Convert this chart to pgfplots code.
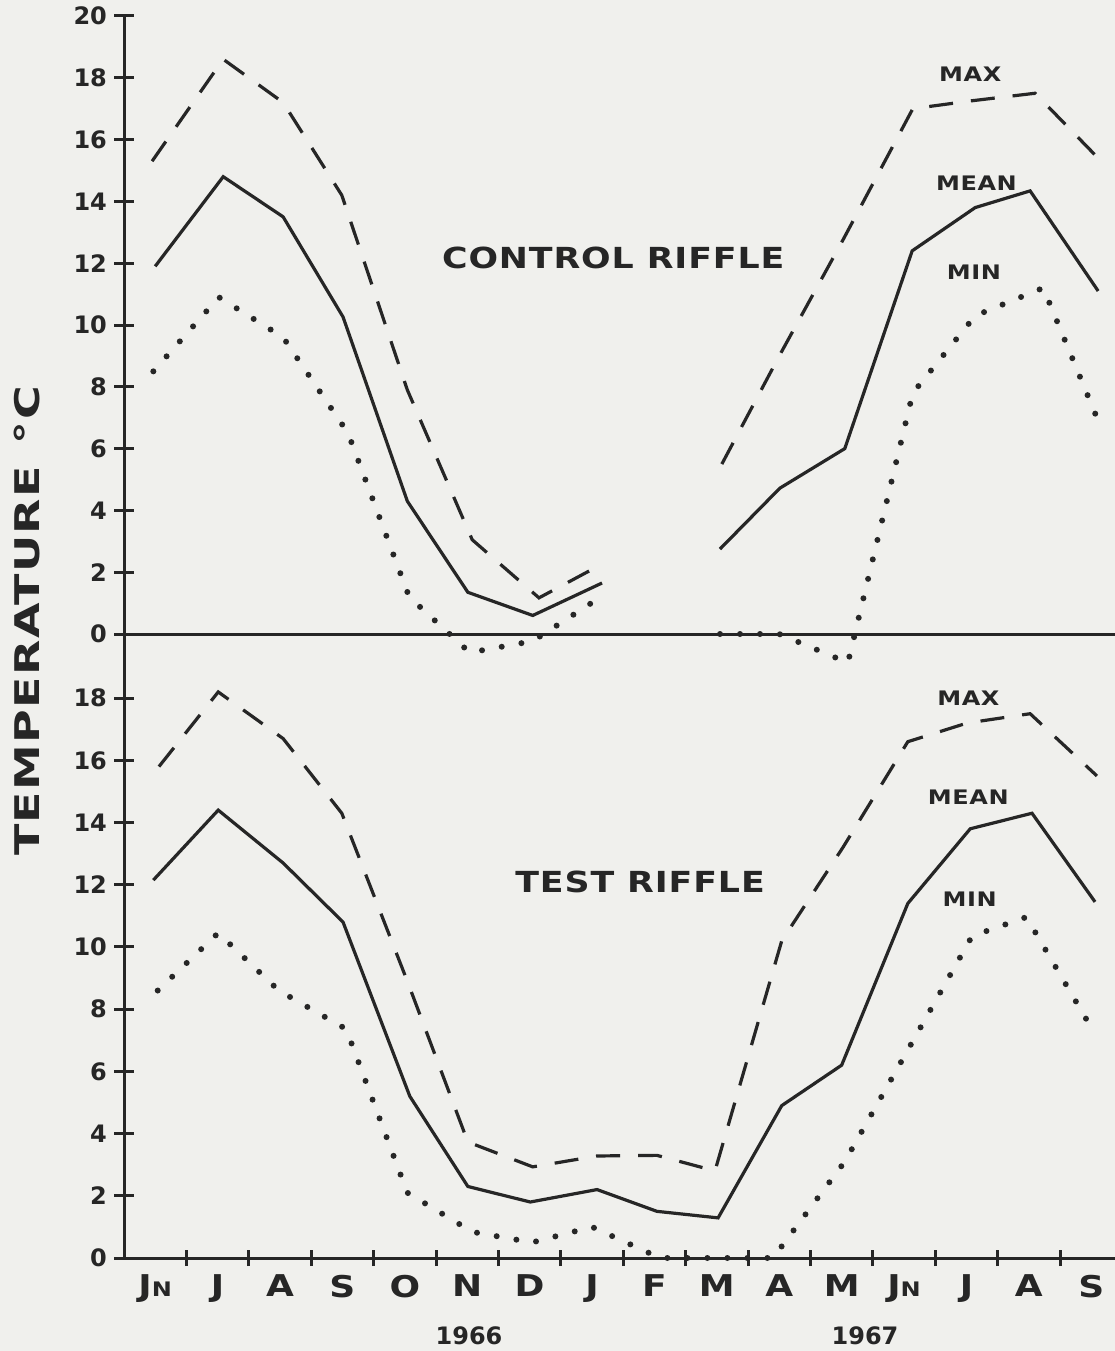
\documentclass[border=0pt]{standalone}
\usepackage{pgfplots}
\pgfplotsset{compat=1.18}
\usepackage{fontspec}
\setmainfont{DejaVu Sans}
\newfontfamily\wide{DejaVu Sans}[FakeStretch=1.2,LetterSpace=3]
\newfontfamily\widest{DejaVu Sans}[FakeStretch=1.35,LetterSpace=4]

\definecolor{paper}{RGB}{240,240,237}
\definecolor{ink}{RGB}{38,38,38}

\pgfplotsset{
  riffle/.style={
    scale only axis, width=495.5pt,
    xmin=0, xmax=15.88,
    clip=false,
    tick align=outside,
    major tick length=10pt,
    minor tick length=8pt,
    every tick/.style={ink, line width=1.5pt},
    ticklabel style={font=\bfseries\fontsize{12}{14}\selectfont, text=ink},
    /pgf/number format/assume math mode=true,
  },
}
\tikzset{
  tmax/.style={ink, line width=1.6pt, dash pattern=on 12pt off 9pt},
  tmean/.style={ink, line width=1.6pt},
  tmin/.style={ink, line width=3pt, line cap=round, dash pattern=on 0pt off 10pt},
  lbl/.style={font=\wide\bfseries\fontsize{10}{12}\selectfont, text=ink},
  ttl/.style={font=\wide\bfseries\fontsize{14.5}{17}\selectfont, text=ink},
}

\begin{document}
\begin{tikzpicture}
\path[use as bounding box, fill=paper] (0,0) rectangle (557.5pt,675.5pt);

% control riffle
\begin{axis}[riffle, at={(62pt,335.75pt)}, anchor=south west, height=331.75pt,
  ymin=-1.472, ymax=20, axis x line=none, axis y line=left,
  xtick=\empty, ytick={0,2,...,20}, unbounded coords=jump,
  axis line style={ink, line width=1.5pt, -}]
\draw[ink, line width=1.5pt] (axis cs:0,0) -- (axis cs:15.88,0);
\addplot[tmax] coordinates {(0.45,15.3) (1.59,18.6) (2.55,17.2) (3.49,14.2) (4.54,7.9) (5.58,3.05) (6.65,1.17) (7.63,2.23) (8.5,nan) (9.58,5.5) (10.5,9.0) (11.52,12.75) (12.64,17.0) (13.56,17.25) (14.6,17.5) (15.61,15.4)};
\addplot[tmean] coordinates {(0.5,11.9) (1.59,14.8) (2.55,13.5) (3.51,10.26) (4.54,4.3) (5.51,1.35) (6.55,0.6) (7.66,1.65) (8.5,nan) (9.55,2.75) (10.51,4.72) (11.55,6.0) (12.63,12.4) (13.64,13.8) (14.52,14.34) (15.61,11.1)};
\addplot[tmin] coordinates {(0.47,8.5) (1.52,10.9) (2.55,9.6) (3.59,6.5) (4.57,1.2) (5.54,-0.6) (6.55,-0.23) (7.64,1.2) (8.5,nan) (9.55,0) (10.5,0) (11.6,-0.93) (12.64,7.8) (13.64,10.3) (14.73,11.2) (15.59,7.0)};
\node[ttl] at (axis cs:7.84,12.17) {CONTROL RIFFLE};
\node[lbl] at (axis cs:13.56,18.1) {MAX};
\node[lbl] at (axis cs:13.66,14.6) {MEAN};
\node[lbl] at (axis cs:13.62,11.72) {MIN};
\end{axis}

% test riffle
\begin{axis}[riffle, at={(62pt,46.5pt)}, anchor=south west, height=289.25pt,
  ymin=0, ymax=18.6, axis x line=bottom, axis y line=left,
  ytick={0,2,...,18},
  xtick={0.5,1.5,...,15.5},
  xticklabels={J{\fontsize{10}{12}\selectfont N},J,A,S,O,N,D,J,F,M,A,M,J{\fontsize{10}{12}\selectfont N},J,A,S},
  minor xtick={1,...,15},
  major x tick style={draw=none},
  xticklabel style={font=\wide\bfseries\fontsize{15}{17}\selectfont, text=ink},
  axis line style={ink, line width=1.5pt, -}]
\addplot[tmax] coordinates {(0.56,15.8) (1.51,18.2) (2.55,16.7) (3.49,14.3) (4.54,8.9) (5.51,3.73) (6.55,2.93) (7.58,3.28) (8.54,3.3) (9.47,2.8) (10.54,10.2) (11.52,13.2) (12.56,16.6) (13.51,17.2) (14.52,17.5) (15.59,15.5)};
\addplot[tmean] coordinates {(0.47,12.15) (1.51,14.4) (2.55,12.7) (3.51,10.8) (4.58,5.2) (5.51,2.3) (6.51,1.8) (7.58,2.2) (8.54,1.5) (9.52,1.29) (10.54,4.9) (11.5,6.2) (12.56,11.4) (13.56,13.8) (14.55,14.3) (15.56,11.45)};
\addplot[tmin] coordinates {(0.54,8.6) (1.51,10.45) (2.48,8.6) (3.56,7.36) (4.54,2.1) (5.58,0.84) (6.54,0.5) (7.5,1.0) (8.59,0) (10.4,0) (11.55,3.1) (13.59,10.35) (14.46,10.96) (15.56,7.2)};
\node[ttl] at (axis cs:8.27,12.09) {TEST RIFFLE};
\node[lbl] at (axis cs:13.53,18.0) {MAX};
\node[lbl] at (axis cs:13.53,14.8) {MEAN};
\node[lbl] at (axis cs:13.55,11.54) {MIN};
\end{axis}

\node[rotate=90, font=\widest\bfseries\fontsize{17}{20}\selectfont, text=ink] at (13.5pt,365pt) {TEMPERATURE\hspace{11pt}°C};
\node[font=\bfseries\fontsize{12}{14}\selectfont, text=ink] at (234.5pt,7.5pt) {1966};
\node[font=\bfseries\fontsize{12}{14}\selectfont, text=ink] at (432.5pt,7.5pt) {1967};
\end{tikzpicture}
\end{document}
